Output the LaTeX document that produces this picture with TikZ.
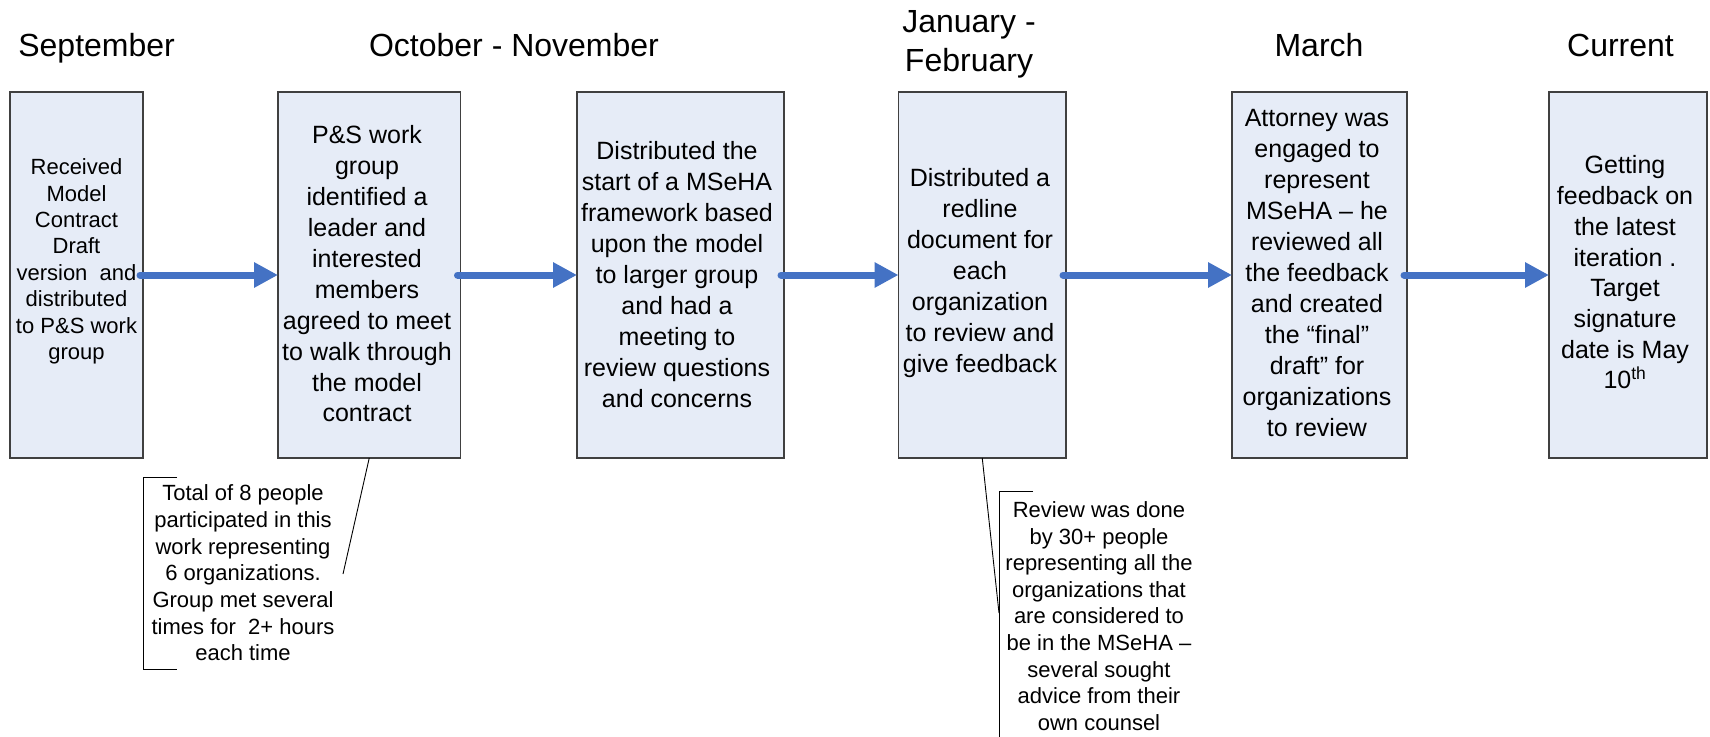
\documentclass[tikz,border=0pt]{standalone}
\usepackage{fontspec}
\setmainfont{Liberation Sans}
\usetikzlibrary{arrows.meta}
\definecolor{boxfill}{RGB}{230,236,247}
\definecolor{boxline}{RGB}{64,64,64}
\definecolor{arrowblue}{RGB}{68,114,196}
\tikzset{
  box/.style={draw=boxline, fill=boxfill, line width=1.2pt, inner sep=0pt, outer sep=0pt},
  txt/.style={align=center, inner sep=0pt, font=\fontsize{25}{30.9}\selectfont},
  smalltxt/.style={align=center, inner sep=0pt, font=\fontsize{22}{26.6}\selectfont},
  hdr/.style={inner sep=0pt, font=\fontsize{32}{38.4}\selectfont},
  arr/.style={draw=arrowblue, line width=7pt, line cap=round, -{Triangle[length=24pt,width=24pt]}},
  leader/.style={draw=black, line width=0.9pt},
}
\begin{document}
\begin{tikzpicture}[x=1pt,y=-1pt]
\useasboundingbox (0,0) rectangle (1710,736);
% headers
\node[hdr, anchor=base] (h1) at (96.6,56) {September};
\node[hdr, anchor=base] (h2) at (514,56) {October - November};
\node[hdr, align=center, font=\fontsize{32}{38.4}\selectfont] (h3) at (969,44.3) {January -\\February};
\node[hdr, anchor=base] (h4) at (1319,56) {March};
\node[hdr, anchor=base] (h5) at (1620.5,56) {Current};
% boxes
\node[box, minimum width=133pt, minimum height=366pt] (b1) at (76.5,275) {};
\node[box, minimum width=182.5pt, minimum height=366pt] (b2) at (369.25,275) {};
\node[box, minimum width=207pt, minimum height=366pt] (b3) at (680.5,275) {};
\node[box, minimum width=167.5pt, minimum height=366pt] (b4) at (982.25,275) {};
\node[box, minimum width=175pt, minimum height=366pt] (b5) at (1319.5,275) {};
\node[box, minimum width=158pt, minimum height=366pt] (b6) at (1628,275) {};
% box texts
\node[txt, font=\fontsize{22}{26.4}\selectfont] (t1) at (76.5,261.5) {Received\\Model\\Contract\\Draft\\version\ \ and\\distributed\\to P\&S work\\group};
\node[txt] (t2) at (367,274) {P\&S work\\group\\identified a\\leader and\\interested\\members\\agreed to meet\\to walk through\\the model\\contract};
\node[txt] (t3) at (677,274.5) {Distributed the\\start of a MSeHA\\framework based\\upon the model\\to larger group\\and had a\\meeting to\\review questions\\and concerns};
\node[txt, font=\fontsize{25}{31}\selectfont] (t4) at (980,273.5) {Distributed a\\redline\\document for\\each\\organization\\to review and\\give feedback};
\node[txt, font=\fontsize{25}{31}\selectfont] (t5) at (1317,273) {Attorney was\\engaged to\\represent\\MSeHA – he\\reviewed all\\the feedback\\and created\\the “final”\\draft” for\\organizations\\to review};
\node[txt, font=\fontsize{25}{30.7}\selectfont] (t6) at (1625,272.5) {Getting\\feedback on\\the latest\\iteration .\\Target\\signature\\date is May\\10\textsuperscript{th}};
% arrows
\draw[arr] ([xshift=-3pt]b1.east) -- (b2.west);
\draw[arr] ([xshift=-3pt]b2.east) -- (b3.west);
\draw[arr] ([xshift=-3pt]b3.east) -- (b4.west);
\draw[arr] ([xshift=-3pt]b4.east) -- (b5.west);
\draw[arr] ([xshift=-3pt]b5.east) -- (b6.west);
% callout 1
\node[smalltxt, font=\fontsize{22}{26.7}\selectfont] (c1) at (243,573) {Total of 8 people\\participated in this\\work representing\\6 organizations.\\Group met several\\times for\ \ 2+ hours\\each time};
\coordinate (k1a) at (177,477);
\coordinate (k1b) at (143.5,477);
\coordinate (k1c) at (143.5,669);
\coordinate (k1d) at (177,669);
\draw[leader] (k1a) -- (k1b) -- (k1c) -- (k1d);
\coordinate (l1) at (343,574);
\draw[leader] (b2.south) -- (l1);
% callout 2
\node[smalltxt] (c2) at (1099,616) {Review was done\\by 30+ people\\representing all the\\organizations that\\are considered to\\be in the MSeHA –\\several sought\\advice from their\\own counsel};
\coordinate (k2a) at (1033,491.7);
\coordinate (k2b) at (999.3,491.7);
\coordinate (k2c) at (999.3,740);
\draw[leader] (k2a) -- (k2b) -- (k2c);
\coordinate (l2) at (999,613);
\draw[leader] (b4.south) -- (l2);
\end{tikzpicture}
\end{document}
